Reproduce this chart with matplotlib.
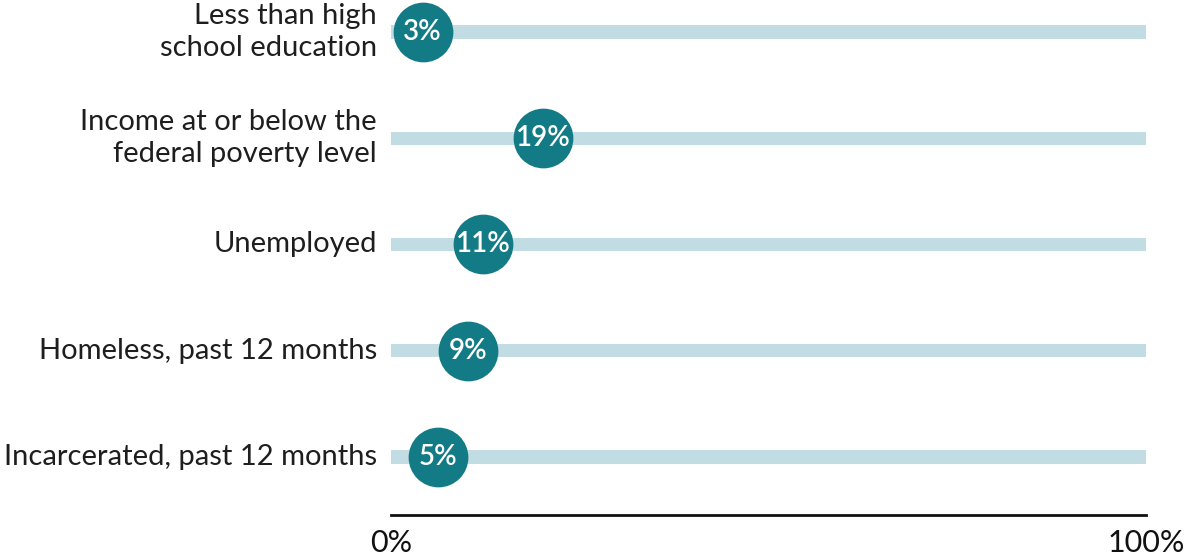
import matplotlib
matplotlib.use("Agg")
import matplotlib.pyplot as plt
import matplotlib.transforms as mtransforms

categories = [
    "Less than high\nschool education",
    "Income at or below the\nfederal poverty level",
    "Unemployed",
    "Homeless, past 12 months",
    "Incarcerated, past 12 months",
]
values = [3, 19, 11, 9, 5]
tick_values = [0, 100]
tick_labels = ["0%", "100%"]

TRACK = "#c1dde3"
DOT = "#127b86"
TEXT = "#1e1e1e"

fig = plt.figure(figsize=(11.89, 5.56), dpi=100)
ax = fig.add_axes([391 / 1189, 41 / 556, 755 / 1189, 515 / 556])

rows = list(range(len(categories)))
ax.barh(rows, [100] * len(rows), left=0, height=0.125, color=TRACK, zorder=1)

offset = mtransforms.ScaledTranslation(9 / 100, 0, fig.dpi_scale_trans)
ax.scatter(values, rows, s=1850, color=DOT, zorder=3, linewidths=0,
           transform=ax.transData + offset)
for v, r in zip(values, rows):
    ax.text(v, r, f"{v}%", color="white", fontsize=20, fontfamily="Lato",
            fontweight="semibold", ha="center", va="center", zorder=4,
            transform=ax.transData + offset)

lab_tr = mtransforms.blended_transform_factory(ax.transAxes, ax.transData)
for lab, r in zip(categories, rows):
    ax.text(-0.0185, r, lab, transform=lab_tr,
            ha="right", va="center", fontsize=21, fontfamily="Lato",
            color=TEXT, linespacing=1.3)

ax.set_xlim(0, 100)
ax.set_ylim(len(rows) - 1 + 0.546, -0.301)
for s in ["top", "right", "left"]:
    ax.spines[s].set_visible(False)
ax.spines["bottom"].set_linewidth(2)
ax.spines["bottom"].set_color("#111111")
ax.set_yticks([])
ax.set_xticks(tick_values)
ax.set_xticklabels(tick_labels, fontsize=22, fontfamily="Lato", color="#111111")
ax.tick_params(axis="x", length=0, pad=10)

fig.savefig("out.png", dpi=100)
